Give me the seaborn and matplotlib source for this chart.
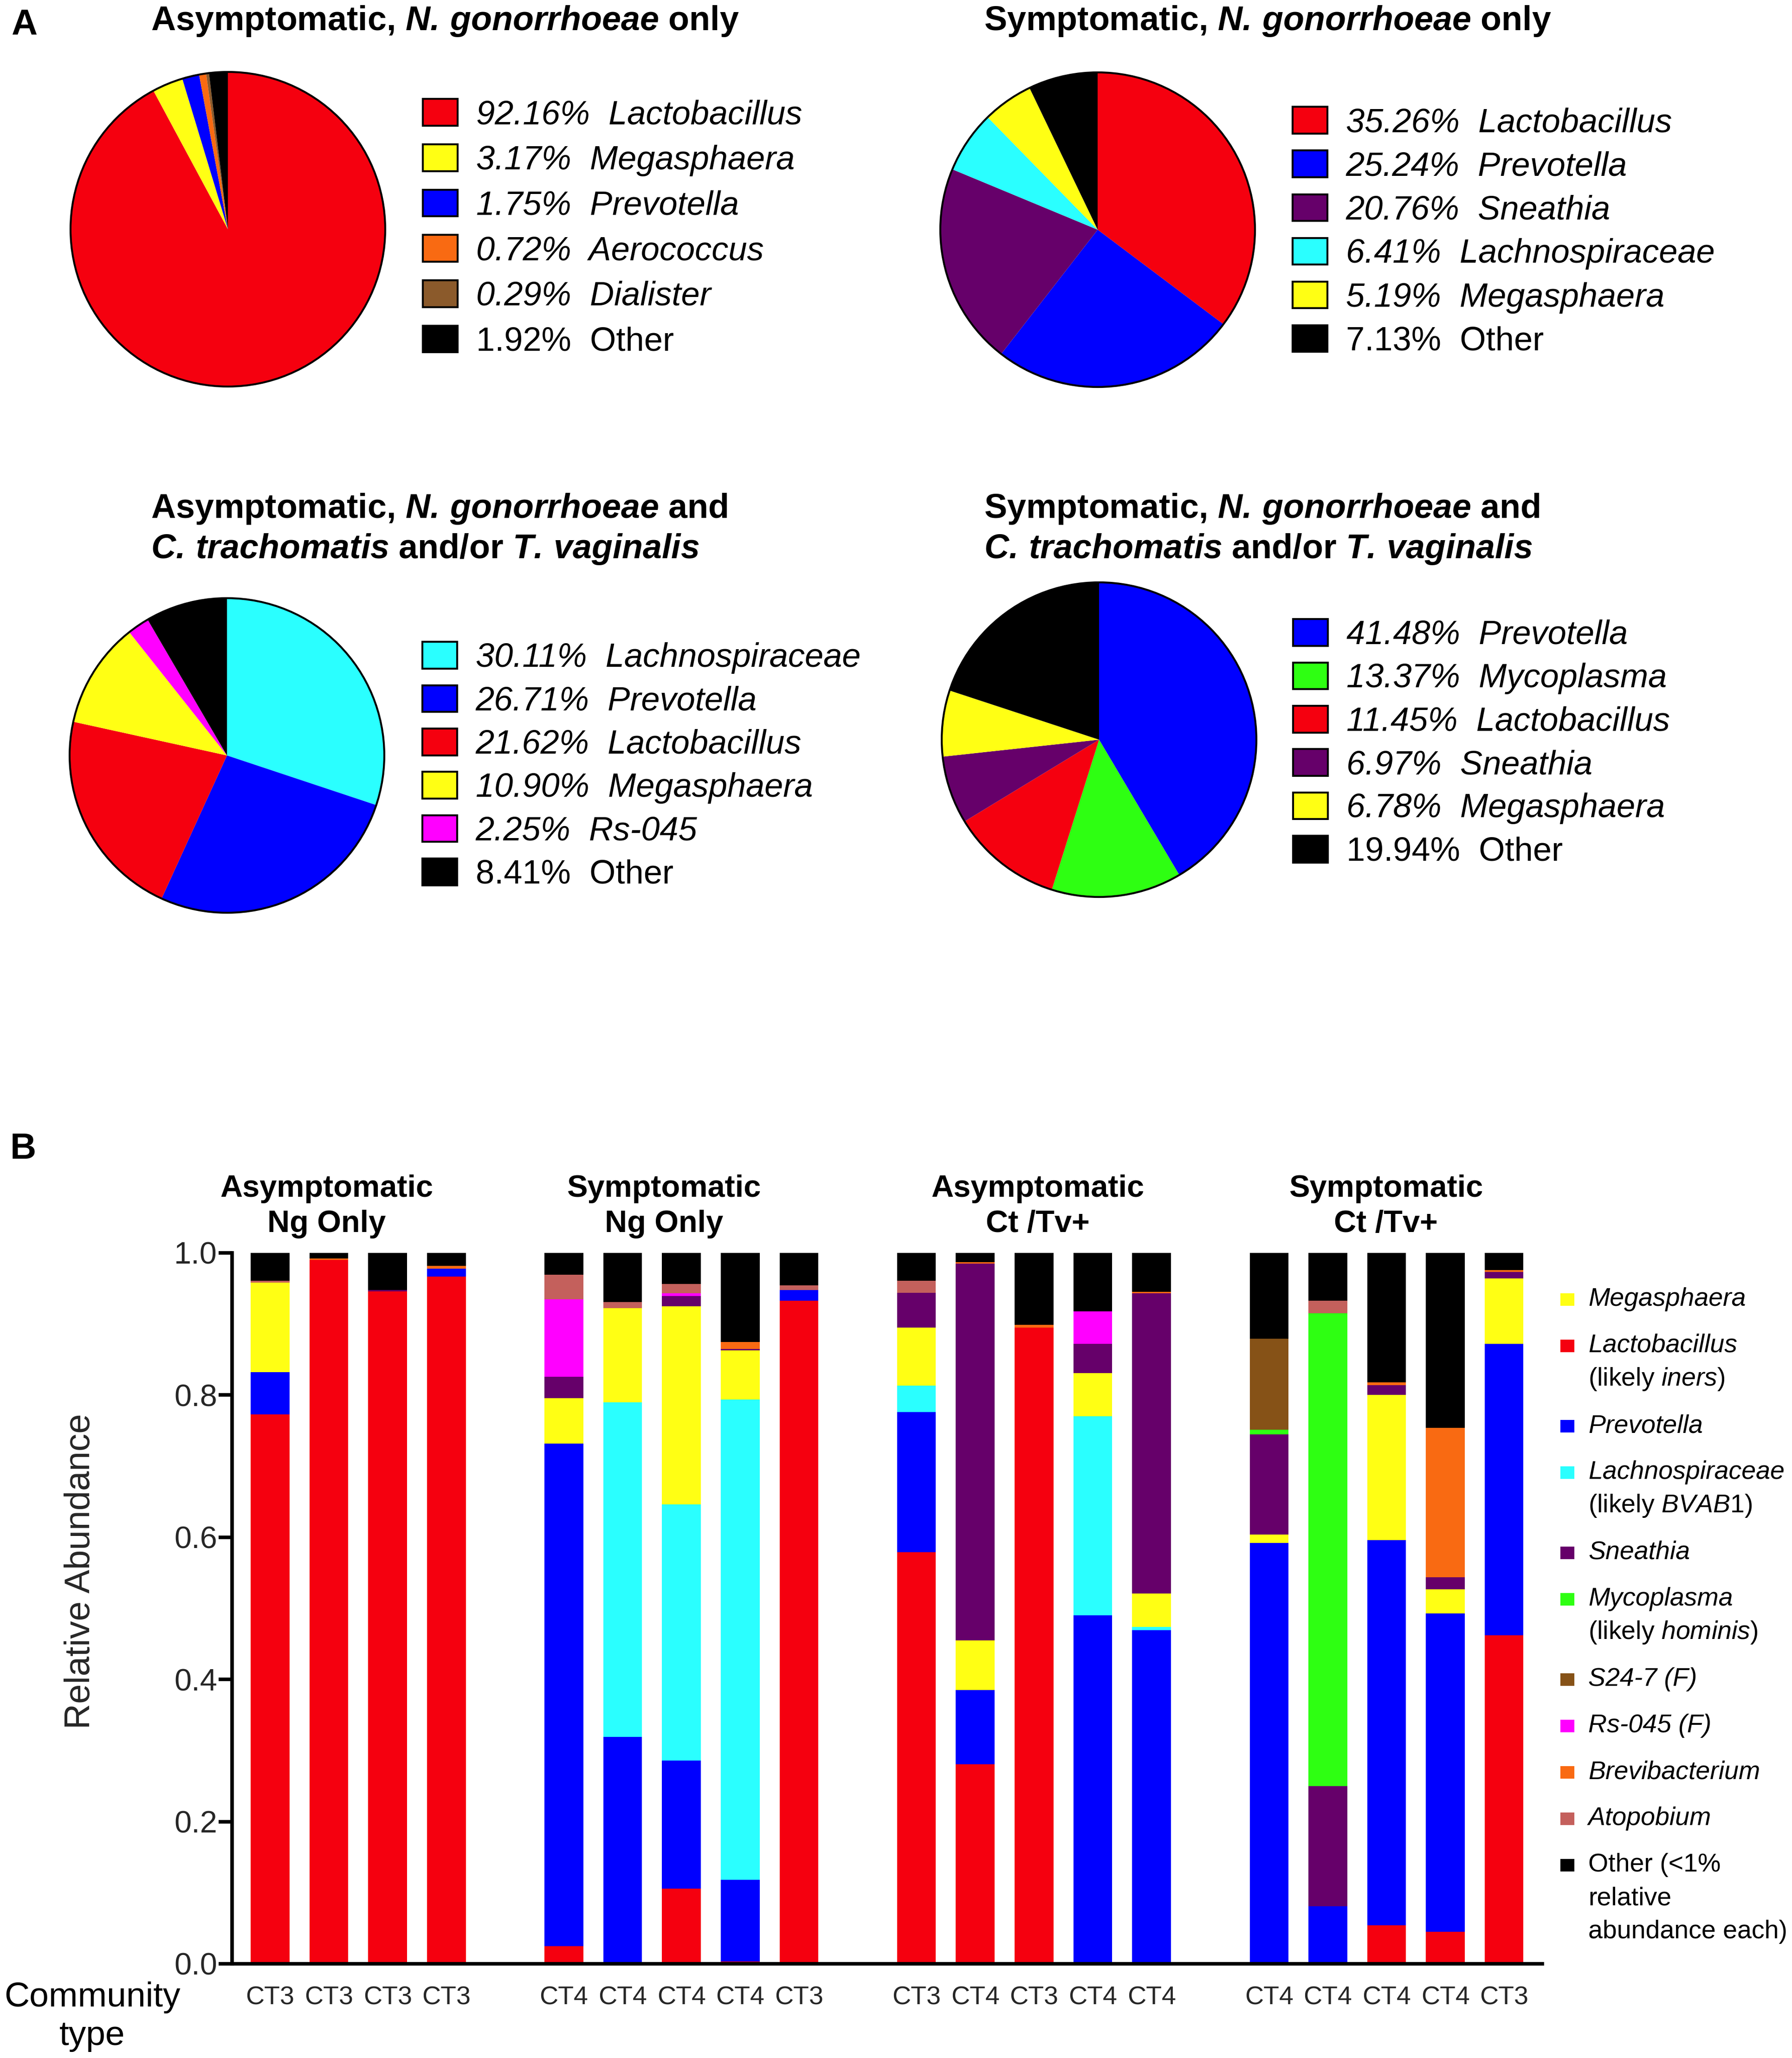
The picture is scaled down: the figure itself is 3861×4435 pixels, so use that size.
import numpy as np
import pandas as pd
import matplotlib
matplotlib.use('Agg')
import matplotlib.pyplot as plt
from matplotlib.patches import Patch, Rectangle, Circle
from matplotlib.ticker import FormatStrFormatter
import seaborn as sns

# ---------------- data ----------------
colors = {
    'Lactobacillus': '#f5000f',
    'Megasphaera': '#ffff14',
    'Prevotella': '#0000ff',
    'Lachnospiraceae': '#2affff',
    'Sneathia': '#66006a',
    'Mycoplasma': '#2eff12',
    'S24-7': '#865217',
    'Rs-045': '#ff00ff',
    'Brevibacterium': '#f96a12',
    'Aerococcus': '#f96a12',
    'Dialister': '#8b5a2b',
    'Atopobium': '#c4605c',
    'Other': '#000000',
}

pie1_labels = ['Lactobacillus', 'Megasphaera', 'Prevotella', 'Aerococcus', 'Dialister', 'Other']
pie1_values = [92.16, 3.17, 1.75, 0.72, 0.29, 1.92]
pie2_labels = ['Lactobacillus', 'Prevotella', 'Sneathia', 'Lachnospiraceae', 'Megasphaera', 'Other']
pie2_values = [35.26, 25.24, 20.76, 6.41, 5.19, 7.13]
pie3_labels = ['Lachnospiraceae', 'Prevotella', 'Lactobacillus', 'Megasphaera', 'Rs-045', 'Other']
pie3_values = [30.11, 26.71, 21.62, 10.90, 2.25, 8.41]
pie4_labels = ['Prevotella', 'Mycoplasma', 'Lactobacillus', 'Sneathia', 'Megasphaera', 'Other']
pie4_values = [41.48, 13.37, 11.45, 6.97, 6.78, 19.94]

pie_titles = [
    r'Asymptomatic, $\mathbfit{N.\,gonorrhoeae}$ only',
    r'Symptomatic, $\mathbfit{N.\,gonorrhoeae}$ only',
    'Asymptomatic, $\\mathbfit{N.\\,gonorrhoeae}$ and\n'
    '$\\mathbfit{C.\\,trachomatis}$ and/or $\\mathbfit{T.\\,vaginalis}$',
    'Symptomatic, $\\mathbfit{N.\\,gonorrhoeae}$ and\n'
    '$\\mathbfit{C.\\,trachomatis}$ and/or $\\mathbfit{T.\\,vaginalis}$',
]

# stacked bars, bottom -> top
group_titles = ['Asymptomatic\nNg Only', 'Symptomatic\nNg Only',
                'Asymptomatic\nCt /Tv+', 'Symptomatic\nCt /Tv+']
group_sizes = [4, 5, 5, 5]
community = ['CT3', 'CT3', 'CT3', 'CT3',
             'CT4', 'CT4', 'CT4', 'CT4', 'CT3',
             'CT3', 'CT4', 'CT3', 'CT4', 'CT4',
             'CT4', 'CT4', 'CT4', 'CT4', 'CT3']

lactobacillus = [.773, .990, .946, .967, .025, 0, .106, .003, .933,
                 .579, .281, .895, 0, 0, 0, 0, .054, .045, .462]
prevotella = [.059, 0, 0, .011, .707, .319, .180, .115, .015,
              .197, .104, 0, .490, .469, .592, .081, .542, .448, .410]
lachnospiraceae = [0, 0, 0, 0, 0, .471, .360, .676, 0,
                   .037, 0, 0, .280, .005, 0, 0, 0, 0, 0]
megasphaera = [.126, 0, 0, 0, .064, .132, .279, .069, 0,
               .082, .070, 0, .061, .047, .012, 0, .204, .034, .092]
sneathia = [0, 0, .002, 0, .030, 0, .014, .002, 0,
            .049, .530, 0, .041, .422, .141, .169, .014, .017, .009]
mycoplasma = [0, 0, 0, 0, 0, 0, 0, 0, 0,
              0, 0, 0, 0, 0, .006, .665, 0, 0, 0]
s24_7 = [0, 0, 0, 0, 0, 0, 0, 0, 0,
         0, 0, 0, 0, 0, .128, 0, 0, 0, 0]
rs_045 = [0, 0, 0, 0, .109, 0, .004, 0, 0,
          0, 0, 0, .046, 0, 0, 0, 0, 0, 0]
brevibacterium = [0, .002, 0, .004, 0, 0, 0, .010, 0,
                  0, .002, .004, 0, .002, 0, 0, .004, .210, .003]
atopobium = [.003, 0, 0, 0, .034, .009, .013, 0, .006,
             .017, 0, 0, 0, 0, 0, .018, 0, 0, 0]
other = [.039, .008, .052, .018, .031, .069, .044, .125, .046,
         .039, .013, .101, .082, .055, .121, .067, .182, .246, .024]

stack_order = ['Lactobacillus', 'Prevotella', 'Lachnospiraceae', 'Megasphaera',
               'Sneathia', 'Mycoplasma', 'S24-7', 'Rs-045', 'Brevibacterium',
               'Atopobium', 'Other']
stack_values = [lactobacillus, prevotella, lachnospiraceae, megasphaera, sneathia,
                mycoplasma, s24_7, rs_045, brevibacterium, atopobium, other]

legend_entries = [
    ('Megasphaera', ['Megasphaera']),
    ('Lactobacillus', ['Lactobacillus', r'(likely $\mathit{iners}$)']),
    ('Prevotella', ['Prevotella']),
    ('Lachnospiraceae', ['Lachnospiraceae', r'(likely $\mathit{BVAB1}$)']),
    ('Sneathia', ['Sneathia']),
    ('Mycoplasma', ['Mycoplasma', r'(likely $\mathit{hominis}$)']),
    ('S24-7', ['S24-7 (F)']),
    ('Rs-045', ['Rs-045 (F)']),
    ('Brevibacterium', ['Brevibacterium']),
    ('Atopobium', ['Atopobium']),
    ('Other', ['Other (<1%', 'relative', 'abundance each)']),
]

# ---------------- style ----------------
sns.set_style('white')
plt.rcParams['font.family'] = ['Liberation Sans', 'DejaVu Sans']
plt.rcParams['mathtext.fontset'] = 'custom'
plt.rcParams['mathtext.rm'] = 'Liberation Sans'
plt.rcParams['mathtext.it'] = 'Liberation Sans:italic'
plt.rcParams['mathtext.bf'] = 'Liberation Sans:bold'
plt.rcParams['mathtext.bfit'] = 'Liberation Sans:italic:bold'
plt.rcParams['text.color'] = 'black'

W, H = 3862, 4435
fig = plt.figure(figsize=(W / 100, H / 100), dpi=100)
fig.patch.set_facecolor('white')


def fx(px):
    return px / W


def fy(py):
    return 1 - py / H


# ---------------- panel A: pies ----------------
def pie_panel(cx, cy, r, labels, values, lx, ly, spacing):
    pad = 1.02
    ax = fig.add_axes([fx(cx - r * pad), fy(cy + r * pad), 2 * r * pad / W, 2 * r * pad / H])
    ax.pie(values, colors=[colors[l] for l in labels], startangle=90,
           counterclock=False, wedgeprops=dict(linewidth=0, edgecolor='none'))
    ax.add_patch(Circle((0, 0), 1, fill=False, lw=3, ec='black', clip_on=False))
    ax.set_xlim(-pad, pad)
    ax.set_ylim(-pad, pad)
    ax.set_aspect('equal')
    ax.axis('off')
    handles = [Patch(facecolor=colors[l], edgecolor='black', linewidth=3) for l in labels]
    texts = [f'{v:.2f}%  {l}' for l, v in zip(labels, values)]
    leg = ax.legend(handles, texts, loc='center left', bbox_to_anchor=(fx(lx), fy(ly)),
                    bbox_transform=fig.transFigure, frameon=False, fontsize=52,
                    handlelength=1.04, handleheight=0.85, handletextpad=0.55,
                    labelspacing=spacing, borderpad=0, borderaxespad=0)
    for t, l in zip(leg.get_texts(), labels):
        if l != 'Other':
            t.set_fontstyle('italic')


pie_panel(491, 494, 339, pie1_labels, pie1_values, 911, 492, 0.40)
pie_panel(2365, 495, 339, pie2_labels, pie2_values, 2785, 500, 0.35)
pie_panel(489, 1628, 339, pie3_labels, pie3_values, 910, 1651, 0.34)
pie_panel(2368, 1594, 339, pie4_labels, pie4_values, 2786, 1602, 0.34)

fig.text(fx(325), fy(45), pie_titles[0], fontsize=53, fontweight='bold', ha='left', va='center')
fig.text(fx(2120), fy(45), pie_titles[1], fontsize=53, fontweight='bold', ha='left', va='center')
fig.text(fx(325), fy(1140), pie_titles[2], fontsize=53, fontweight='bold', ha='left', va='center',
         linespacing=1.25)
fig.text(fx(2120), fy(1140), pie_titles[3], fontsize=53, fontweight='bold', ha='left', va='center',
         linespacing=1.25)

fig.text(fx(24), fy(17), 'A', fontsize=56, fontweight='bold', ha='left', va='top')
fig.text(fx(22), fy(2440), 'B', fontsize=56, fontweight='bold', ha='left', va='top')

# ---------------- panel B: stacked bars ----------------
positions = []
start = 0
for n in group_sizes:
    positions += list(range(start, start + n))
    start += n + 1

rows = []
for taxon, vals in zip(stack_order, stack_values):
    for p, v in zip(positions, vals):
        rows.append({'pos': p, 'taxon': taxon, 'value': v})
df = pd.DataFrame(rows)

axb = fig.add_axes([fx(500), fy(4232), (3323 - 500) / W, (4232 - 2700) / H])
# seaborn stacks the first hue level on top, so pass the order top -> bottom
sns.histplot(data=df, x='pos', weights='value', hue='taxon', hue_order=stack_order[::-1],
             palette={t: colors[t] for t in stack_order}, multiple='stack',
             discrete=True, shrink=0.66, linewidth=0, edgecolor='none', alpha=1,
             legend=False, ax=axb)

axb.set_xlim(-0.648, 21.65)
axb.set_ylim(0, 1.0)
sns.despine(ax=axb)
for s in ['left', 'bottom']:
    axb.spines[s].set_linewidth(5.5)
    axb.spines[s].set_color('black')
axb.set_yticks([0, 0.2, 0.4, 0.6, 0.8, 1.0])
axb.yaxis.set_major_formatter(FormatStrFormatter('%.1f'))
axb.tick_params(axis='y', direction='out', length=21, width=5.5, labelsize=48, pad=2,
                left=True, color='black')
axb.set_xticks(positions)
axb.set_xticklabels(community)
axb.tick_params(axis='x', length=0, labelsize=40, pad=34)
axb.set_xlabel('')
axb.set_ylabel('Relative Abundance', fontsize=55, va='center')
axb.yaxis.set_label_coords(-0.1155, 0.552)
axb.grid(False)

# group headers
title_offsets = [-0.54, -0.30, 0.06, -0.01]
start = 0
for title, n, off in zip(group_titles, group_sizes, title_offsets):
    centre = np.mean(positions[start:start + n]) + off
    axb.text(centre, 1.02, title, ha='center', va='bottom', fontsize=48,
             fontweight='bold', linespacing=1.3, transform=axb.transData)
    start += n

fig.text(fx(199), fy(4346), 'Community\ntype', ha='center', va='center', fontsize=54,
         linespacing=1.25)

# legend for bar chart
y = 2800
for taxon, lines in legend_entries:
    fig.add_artist(Rectangle((fx(3362), fy(y + 14)), 30 / W, 27 / H, transform=fig.transFigure,
                             facecolor=colors[taxon], edgecolor='none'))
    for i, line in enumerate(lines):
        style = 'italic' if (i == 0 and taxon != 'Other') else 'normal'
        fig.text(fx(3422), fy(y + 72 * i), line, ha='left', va='center', fontsize=40,
                 fontstyle=style)
    y += 100 + 73 * (len(lines) - 1)

fig.savefig('out.png', dpi=100, facecolor='white')
